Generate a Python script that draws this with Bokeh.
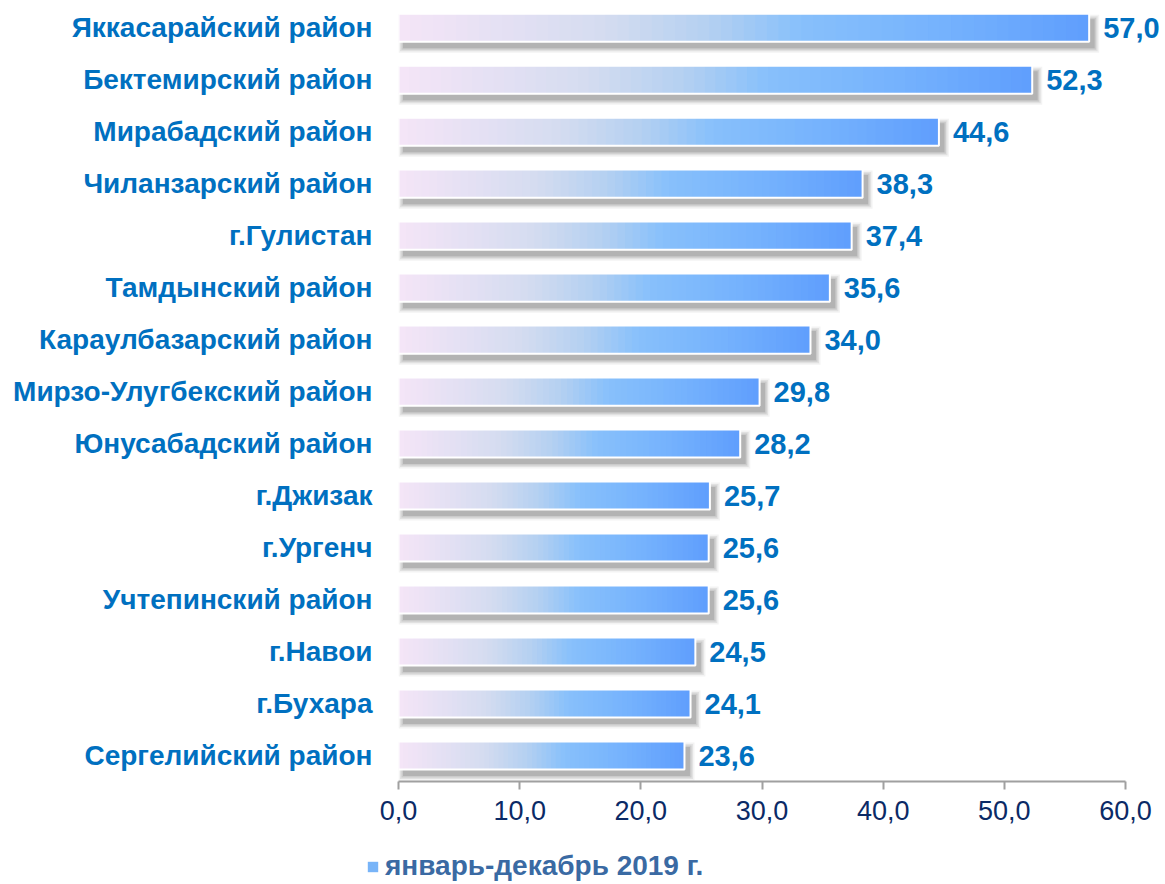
from bokeh.plotting import figure
from bokeh.layouts import column
from bokeh.models import (ColumnDataSource, FixedTicker, CustomJSTickFormatter,
                          Legend, LegendItem, Range1d)
from bokeh.embed import file_html
from bokeh.resources import INLINE
from bokeh.core.properties import value

# ---- data (top -> bottom) ----
districts = ["Яккасарайский район", "Бектемирский район", "Мирабадский район",
             "Чиланзарский район", "г.Гулистан", "Тамдынский район",
             "Караулбазарский район", "Мирзо-Улугбекский район", "Юнусабадский район",
             "г.Джизак", "г.Ургенч", "Учтепинский район", "г.Навои", "г.Бухара",
             "Сергелийский район"]
values = [57.0, 52.3, 44.6, 38.3, 37.4, 35.6, 34.0, 29.8, 28.2, 25.7, 25.6, 25.6, 24.5, 24.1, 23.6]
x_ticks = [0, 10, 20, 30, 40, 50, 60]
series_name = "январь-декабрь 2019 г."

n = len(districts)
ypos = [n - i for i in range(n)]          # top bar highest
H = 0.54                                   # bar thickness (category units)

PX_X = 1.0 / 12.117                        # one pixel in data units (x)
PX_Y = 1.0 / 52.0                          # one pixel in data units (y)

FONT = "Liberation Sans"
BLUE = "#0070c0"

p = figure(frame_width=765, frame_height=772, output_backend="svg", toolbar_location=None,
           x_range=Range1d(0, 765 / 12.117), y_range=Range1d(0.5, n + 0.35),
           min_border_left=398, min_border_right=0, min_border_top=9, min_border_bottom=46,
           background_fill_color="white", border_fill_color="white")
p.outline_line_color = None
p.grid.visible = False

# ---- shadows (soft, offset down-right) ----
for grow, alpha in [(5, 0.08), (3.5, 0.12), (2, 0.16), (0.5, 0.22)]:
    p.quad(left=[(5 - grow) * PX_X for _ in values],
           right=[v + (5 + grow) * PX_X for v in values],
           top=[y + H / 2 - (6 - grow) * PX_Y for y in ypos],
           bottom=[y - H / 2 - (6 + grow) * PX_Y for y in ypos],
           fill_color="#606060", fill_alpha=alpha, line_color=None)

# ---- gradient bars ----
stops = [(0.0, (245, 229, 247)), (0.30, (212, 220, 240)), (0.45, (180, 208, 241)),
         (0.58, (136, 192, 251)), (0.78, (118, 179, 253)), (1.0, (95, 158, 253))]


def grad(t):
    for (t0, c0), (t1, c1) in zip(stops[:-1], stops[1:]):
        if t <= t1:
            f = (t - t0) / (t1 - t0)
            return "#%02x%02x%02x" % tuple(int(round(a + (b - a) * f)) for a, b in zip(c0, c1))
    return "#%02x%02x%02x" % stops[-1][1]


N = 60
L, R, T, B, C = [], [], [], [], []
for v, y in zip(values, ypos):
    for k in range(N):
        L.append(v * k / N)
        R.append(min(v, v * (k + 1.8) / N))
        T.append(y + H / 2)
        B.append(y - H / 2)
        C.append(grad((k + 0.5) / N))
bars_src = ColumnDataSource(dict(left=L, right=R, top=T, bottom=B, color=C))
p.quad(left="left", right="right", top="top", bottom="bottom", fill_color="color",
       line_color=None, source=bars_src)

# white border
p.quad(left=[0] * n, right=values, top=[y + H / 2 for y in ypos], bottom=[y - H / 2 for y in ypos],
       fill_color=None, line_color="white", line_width=2)

# value labels
p.text(x=values, y=ypos, text=[f"{v:.1f}".replace(".", ",") for v in values],
       x_offset=14, text_baseline="middle", text_align="left",
       text_font=value(FONT), text_font_style="bold", text_font_size="29px", text_color=BLUE)

# ---- axes ----
xa = p.xaxis[0]
xa.ticker = FixedTicker(ticks=x_ticks)
xa.formatter = CustomJSTickFormatter(code="return tick.toFixed(1).replace('.', ',');")
xa.bounds = (0, 60)
xa.axis_line_color = "#a0a0a0"
xa.axis_line_width = 2
xa.major_tick_line_color = "#a0a0a0"
xa.major_tick_line_width = 2
xa.major_tick_out = 8
xa.major_tick_in = 0
xa.minor_tick_line_color = None
xa.major_label_standoff = 11
xa.major_label_text_font = FONT
xa.major_label_text_font_size = "27px"
xa.major_label_text_color = "#0b2a66"

ya = p.yaxis[0]
ya.ticker = FixedTicker(ticks=ypos)
ya.formatter = CustomJSTickFormatter(args=dict(names=districts, n=n),
                                     code="const i = Math.round(n - tick); return (i >= 0 && i < names.length) ? names[i] : '';")
ya.axis_line_color = None
ya.major_tick_line_color = None
ya.minor_tick_line_color = None
ya.major_label_standoff = 20
ya.major_label_text_font = FONT
ya.major_label_text_font_style = "bold"
ya.major_label_text_font_size = "28px"
ya.major_label_text_color = BLUE

# ---- legend strip (separate small figure under the chart) ----
pl = figure(width=1163, height=57, output_backend="svg", toolbar_location=None,
            x_range=Range1d(0, 1), y_range=Range1d(0, 1),
            min_border_left=0, min_border_right=0, min_border_top=0, min_border_bottom=0,
            background_fill_color="white", border_fill_color="white")
pl.outline_line_color = None
pl.grid.visible = False
pl.axis.visible = False
# hidden stand-in glyph (outside the strip's range) so the legend draws its swatch
swatch = pl.quad(left=[5], right=[6], top=[6], bottom=[5], fill_color="#78b4f8", line_color=None)
legend = Legend(items=[LegendItem(label=series_name, renderers=[swatch])],
                location=(366, 2), orientation="horizontal",
                label_text_font=FONT, label_text_font_style="bold", label_text_font_size="28px",
                label_text_color="#3a6aa3", glyph_width=13, glyph_height=13,
                border_line_color=None, background_fill_alpha=0, padding=0, spacing=0,
                label_standoff=6, margin=0)
pl.add_layout(legend, "center")

layout = column(p, column(pl, spacing=0), spacing=0)
open("out.html", "w").write(file_html(layout, INLINE))
